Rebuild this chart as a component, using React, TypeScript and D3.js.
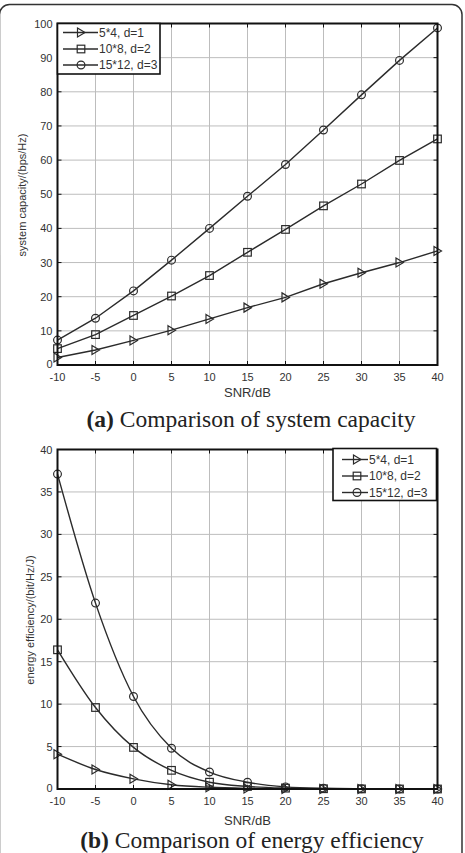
import React from 'react';
import * as d3 from 'd3';

// x軸: SNR (dB)
const snr = [-10, -5, 0, 5, 10, 15, 20, 25, 30, 35, 40];
const xTicks = [-10, -5, 0, 5, 10, 15, 20, 25, 30, 35, 40];

// (a) system capacity
const cap5x4 = [2.2, 4.4, 7.2, 10.2, 13.5, 16.8, 19.8, 23.8, 27.0, 30.0, 33.4];
const cap10x8 = [4.8, 8.9, 14.5, 20.2, 26.2, 33.0, 39.7, 46.6, 53.0, 59.9, 66.2];
const cap15x12 = [7.3, 13.7, 21.7, 30.7, 40.0, 49.4, 58.7, 68.8, 79.1, 89.2, 98.7];
const capTicks = [0, 10, 20, 30, 40, 50, 60, 70, 80, 90, 100];

// (b) energy efficiency
const ee5x4 = [4.1, 2.3, 1.2, 0.5, 0.2, 0.07, 0.02, 0.01, 0.0, 0.0, 0.0];
const ee10x8 = [16.4, 9.6, 4.9, 2.2, 0.8, 0.3, 0.1, 0.03, 0.01, 0.0, 0.0];
const ee15x12 = [37.1, 21.9, 10.9, 4.8, 2.0, 0.8, 0.25, 0.08, 0.03, 0.01, 0.0];
const eeTicks = [0, 5, 10, 15, 20, 25, 30, 35, 40];

const seriesNames = ['5*4, d=1', '10*8, d=2', '15*12, d=3'];
const markerTypes = ['tri', 'square', 'circle'];

const ink = '#2b2b2b';
const sans = '"Liberation Sans", Arial, sans-serif';
const serif = '"Liberation Serif", "Times New Roman", serif';

// マーカー描画 (中抜き)
const Marker = ({ type, x, y }) => {
  if (type === 'tri') {
    return <path d={`M${x - 3.5},${y - 4.5}L${x + 4},${y}L${x - 3.5},${y + 4.5}Z`} fill="none" stroke={ink} strokeWidth={1.2} />;
  }
  if (type === 'square') {
    return <rect x={x - 3.8} y={y - 3.8} width={7.6} height={7.6} fill="none" stroke={ink} strokeWidth={1.2} />;
  }
  return <circle cx={x} cy={y} r={3.9} fill="none" stroke={ink} strokeWidth={1.2} />;
};

const Panel = ({ top, bottom, yMax, yTicks, series, curve, yLabel, yLabelX, yLabelY, xLabelY, legend }) => {
  const left = 57.5, right = 437.5;
  const x = d3.scaleLinear().domain([-10, 40]).range([left, right]);
  const y = d3.scaleLinear().domain([0, yMax]).range([bottom, top]);
  const line = d3.line().x((d) => x(d[0])).y((d) => y(d[1])).curve(curve);
  const tickLen = 4;

  return (
    <g>
      {/* グリッド */}
      {xTicks.slice(1, -1).map((t) => (
        <line key={'gx' + t} x1={x(t)} x2={x(t)} y1={top} y2={bottom} stroke="#bdbdbd" strokeWidth={1} />
      ))}
      {yTicks.slice(1, -1).map((t) => (
        <line key={'gy' + t} x1={left} x2={right} y1={y(t)} y2={y(t)} stroke="#bdbdbd" strokeWidth={1} />
      ))}
      {/* 内向き目盛り */}
      {xTicks.map((t) => (
        <g key={'tx' + t}>
          <line x1={x(t)} x2={x(t)} y1={bottom} y2={bottom - tickLen} stroke="#111" />
          <line x1={x(t)} x2={x(t)} y1={top} y2={top + tickLen} stroke="#111" />
          <text x={x(t)} y={bottom + 16} textAnchor="middle" fontSize={11} fontFamily={sans} fill="#333">{t}</text>
        </g>
      ))}
      {yTicks.map((t) => (
        <g key={'ty' + t}>
          <line x1={left} x2={left + tickLen} y1={y(t)} y2={y(t)} stroke="#111" />
          <line x1={right} x2={right - tickLen} y1={y(t)} y2={y(t)} stroke="#111" />
          <text x={left - 5} y={y(t) + (t === 0 ? 2.5 : 4)} textAnchor="end" fontSize={11} fontFamily={sans} fill="#333">{t}</text>
        </g>
      ))}
      {/* データ */}
      {series.map((vals, i) => {
        const pts = snr.map((s, j) => [s, vals[j]]);
        return (
          <g key={'s' + i}>
            <path d={line(pts)} fill="none" stroke={ink} strokeWidth={1.4} />
            {pts.map((p, j) => <Marker key={j} type={markerTypes[i]} x={x(p[0])} y={y(p[1])} />)}
          </g>
        );
      })}
      {/* 枠 */}
      <rect x={left} y={top} width={right - left} height={bottom - top} fill="none" stroke="#111" strokeWidth={2} />
      {/* 凡例 */}
      <rect x={legend.x} y={legend.y} width={legend.w} height={legend.h} fill="#fff" stroke="#111" strokeWidth={1.6} />
      {seriesNames.map((name, i) => {
        const cy = legend.rows[i];
        return (
          <g key={'lg' + i}>
            <line x1={legend.l1} x2={legend.l2} y1={cy} y2={cy} stroke={ink} strokeWidth={1.4} />
            <Marker type={markerTypes[i]} x={legend.m} y={cy} />
            <text x={legend.l2 + 1} y={cy + 4.3} fontSize={12} fontFamily={sans} fill="#333">{name}</text>
          </g>
        );
      })}
      {/* 軸ラベル */}
      <text x={(left + right) / 2} y={xLabelY} textAnchor="middle" fontSize={13} fontFamily={sans} fill="#333">SNR/dB</text>
      <text transform={`translate(${yLabelX},${yLabelY}) rotate(-90)`} textAnchor="middle" fontSize={11} fontFamily={sans} fill="#333">{yLabel}</text>
    </g>
  );
};

export default function App() {
  return (
    <div style={{ position: 'absolute', left: 0, top: 0 }}>
      <svg width={465} height={853} style={{ display: 'block', background: '#fff' }}>
        <rect x={-0.5} y={4.5} width={462.5} height={900} rx={10} fill="none" stroke="#333" strokeWidth={1.5} />
        <Panel
          top={23.5} bottom={365} yMax={100} yTicks={capTicks}
          series={[cap5x4, cap10x8, cap15x12]} curve={d3.curveLinear}
          yLabel="system capacity/(bps/Hz)" yLabelX={26} yLabelY={195}
          xLabelY={397}
          legend={{ x: 57.5, y: 23.5, w: 102.5, h: 50.5, rows: [32.5, 49, 65], l1: 63, l2: 98, m: 81 }}
        />
        <text x={251} y={427} textAnchor="middle" fontSize={23.5} fontFamily={serif} fill="#222">
          <tspan fontWeight="bold">(a)</tspan> Comparison of system capacity
        </text>
        <Panel
          top={449.5} bottom={789} yMax={40} yTicks={eeTicks}
          series={[ee5x4, ee10x8, ee15x12]} curve={d3.curveMonotoneX}
          yLabel="energy efficiency/(bit/Hz/J)" yLabelX={34} yLabelY={620}
          xLabelY={825}
          legend={{ x: 333, y: 448.5, w: 103.5, h: 52, rows: [459.5, 476, 492.5], l1: 342, l2: 368, m: 357 }}
        />
        <text x={252} y={848} textAnchor="middle" fontSize={23.5} fontFamily={serif} fill="#222">
          <tspan fontWeight="bold">(b)</tspan> Comparison of energy efficiency
        </text>
      </svg>
    </div>
  );
}
